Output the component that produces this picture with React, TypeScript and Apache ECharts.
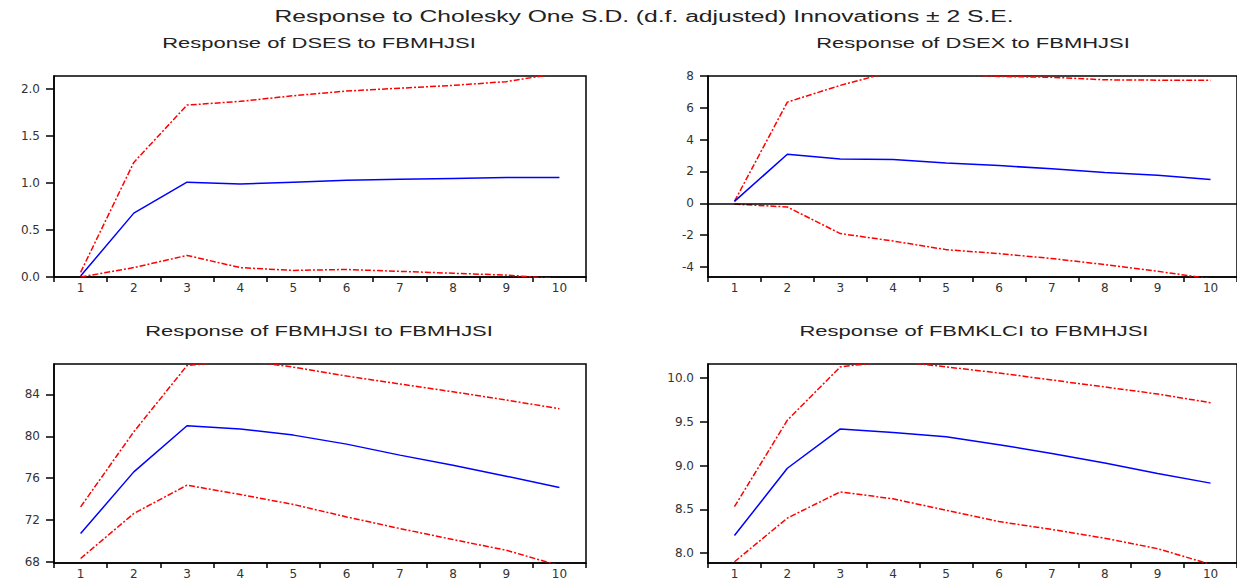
import React, { useEffect, useRef } from 'react';
import * as echarts from 'echarts';

const mainTitle = 'Response to Cholesky One S.D. (d.f. adjusted) Innovations ± 2 S.E.';
const panelTitles = [
  'Response of DSES to FBMHJSI',
  'Response of DSEX to FBMHJSI',
  'Response of FBMHJSI to FBMHJSI',
  'Response of FBMKLCI to FBMHJSI',
];

const periods = ['1', '2', '3', '4', '5', '6', '7', '8', '9', '10'];

const dsesResp = [0.01, 0.68, 1.01, 0.99, 1.01, 1.03, 1.04, 1.05, 1.06, 1.06];
const dsesUpper = [0.05, 1.22, 1.83, 1.87, 1.93, 1.98, 2.01, 2.04, 2.08, 2.17];
const dsesLower = [0.0, 0.1, 0.23, 0.1, 0.07, 0.08, 0.06, 0.04, 0.02, -0.02];

const dsexResp = [0.12, 3.08, 2.78, 2.76, 2.53, 2.37, 2.17, 1.93, 1.76, 1.5];
const dsexUpper = [0.12, 6.36, 7.41, 8.3, 8.15, 7.97, 7.92, 7.76, 7.74, 7.73];
const dsexLower = [-0.05, -0.23, -1.9, -2.37, -2.91, -3.16, -3.47, -3.85, -4.27, -4.74];

const fbmhjsiResp = [70.71, 76.6, 81.0, 80.69, 80.11, 79.25, 78.2, 77.24, 76.19, 75.11];
const fbmhjsiUpper = [73.26, 80.43, 86.75, 87.3, 86.6, 85.75, 84.99, 84.25, 83.46, 82.63];
const fbmhjsiLower = [68.33, 72.63, 75.33, 74.44, 73.49, 72.3, 71.19, 70.14, 69.12, 67.65];

const fbmklciResp = [8.2, 8.97, 9.42, 9.38, 9.33, 9.24, 9.14, 9.03, 8.91, 8.8];
const fbmklciUpper = [8.53, 9.52, 10.13, 10.2, 10.13, 10.06, 9.98, 9.9, 9.82, 9.72];
const fbmklciLower = [7.9, 8.4, 8.7, 8.62, 8.49, 8.36, 8.27, 8.17, 8.05, 7.87];

const yTicks1 = [0, 0.5, 1.0, 1.5, 2.0];
const yTicks2 = [-4, -2, 0, 2, 4, 6, 8];
const yTicks3 = [68, 72, 76, 80, 84];
const yTicks4 = [8.0, 8.5, 9.0, 9.5, 10.0];

const yRange1 = [0, 2.14];
const yRange2 = [-4.63, 8];
const yRange3 = [67.9, 86.9];
const yRange4 = [7.886, 10.163];

const panels = [
  { resp: dsesResp, upper: dsesUpper, lower: dsesLower, ticks: yTicks1, range: yRange1, decimals: 1, zero: false,
    grid: { left: 54, top: 76, width: 532, height: 201 }, titleX: 319, titleY: 43 },
  { resp: dsexResp, upper: dsexUpper, lower: dsexLower, ticks: yTicks2, range: yRange2, decimals: 0, zero: true,
    grid: { left: 708, top: 76, width: 533, height: 201 }, titleX: 973, titleY: 43 },
  { resp: fbmhjsiResp, upper: fbmhjsiUpper, lower: fbmhjsiLower, ticks: yTicks3, range: yRange3, decimals: 0, zero: false,
    grid: { left: 54, top: 364, width: 532, height: 199 }, titleX: 319, titleY: 331 },
  { resp: fbmklciResp, upper: fbmklciUpper, lower: fbmklciLower, ticks: yTicks4, range: yRange4, decimals: 1, zero: false,
    grid: { left: 708, top: 364, width: 533, height: 199 }, titleX: 974, titleY: 331 },
];

const labelFont = { fontFamily: 'DejaVu Sans', fontSize: 12, color: '#333' };
const bandStyle = { color: '#ff0000', width: 1.5, type: [6, 2, 2, 2] as number[] };

function buildOption() {
  const grid: any[] = [];
  const xAxis: any[] = [];
  const yAxis: any[] = [];
  const series: any[] = [];
  const graphic: any[] = [
    {
      type: 'text', x: 644, y: 16, scaleX: 1.54,
      style: { text: mainTitle, fontFamily: 'Liberation Sans', fontSize: 16, fill: '#222', align: 'center', verticalAlign: 'middle' },
    },
  ];

  panels.forEach((p, i) => {
    grid.push({ ...p.grid, show: true, borderColor: '#000', borderWidth: 1.5, backgroundColor: 'transparent' });
    xAxis.push({
      type: 'category', gridIndex: i, data: periods, boundaryGap: true,
      axisLine: { onZero: false, lineStyle: { color: '#000', width: 1.5 } },
      axisTick: { show: true, inside: false, length: 5, interval: 0, lineStyle: { color: '#000', width: 1.5 } },
      axisLabel: { ...labelFont, margin: 5, interval: 0 },
      splitLine: { show: false },
    });
    yAxis.push({
      type: 'value', gridIndex: i, min: p.range[0], max: p.range[1], scale: true,
      axisLine: { show: true, lineStyle: { color: '#000', width: 1.5 } },
      axisTick: { show: true, inside: false, length: 8, customValues: p.ticks, lineStyle: { color: '#000', width: 1.5 } },
      axisLabel: { ...labelFont, margin: 14, customValues: p.ticks, formatter: (v: number) => v.toFixed(p.decimals) },
      splitLine: { show: false },
    });
    series.push({
      type: 'line', xAxisIndex: i, yAxisIndex: i, data: p.resp, symbol: 'none', clip: true,
      lineStyle: { color: '#0000ff', width: 1.5 }, z: 3,
      markLine: p.zero ? {
        silent: true, symbol: ['none', 'none'], label: { show: false },
        lineStyle: { color: '#000', type: 'solid', width: 1.5 },
        data: [{ yAxis: 0 }],
      } : undefined,
    });
    series.push({
      type: 'line', xAxisIndex: i, yAxisIndex: i, data: p.upper, symbol: 'none', clip: true,
      lineStyle: bandStyle, z: 2,
    });
    series.push({
      type: 'line', xAxisIndex: i, yAxisIndex: i, data: p.lower, symbol: 'none', clip: true,
      lineStyle: bandStyle, z: 2,
    });
    graphic.push({
      type: 'text', x: p.titleX, y: p.titleY, scaleX: 1.57,
      style: { text: panelTitles[i], fontFamily: 'Liberation Sans', fontSize: 14, fill: '#222', align: 'center', verticalAlign: 'middle' },
    });
  });

  return { animation: false, backgroundColor: '#fff', grid, xAxis, yAxis, series, graphic };
}

export default function App() {
  const ref = useRef<HTMLDivElement>(null);
  useEffect(() => {
    if (!ref.current) return;
    const chart = echarts.init(ref.current, null, { renderer: 'svg' });
    chart.setOption(buildOption());
    return () => chart.dispose();
  }, []);
  return (
    <div
      ref={ref}
      style={{ position: 'fixed', left: 0, top: 0, width: 1237, height: 584, background: '#fff' }}
    />
  );
}
